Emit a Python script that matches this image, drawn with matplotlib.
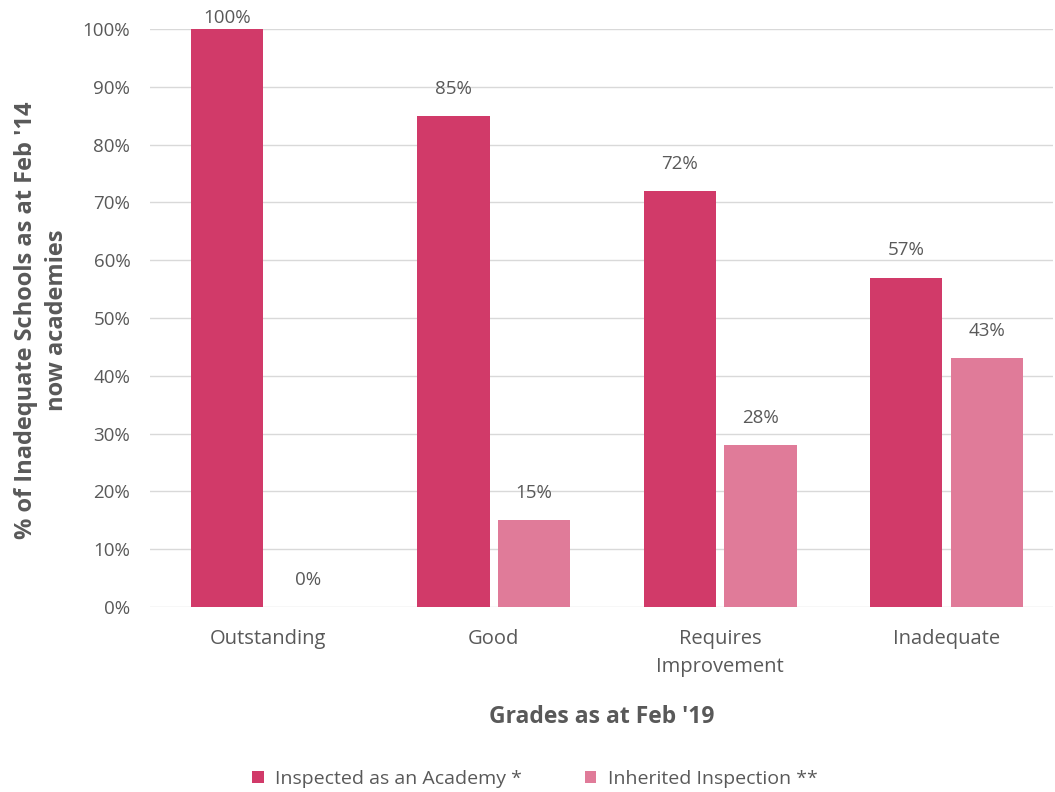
import matplotlib
matplotlib.use("Agg")
import matplotlib.pyplot as plt
import numpy as np

categories = ["Outstanding", "Good", "Requires\nImprovement", "Inadequate"]
academy = [100, 85, 72, 57]
inherited = [0, 15, 28, 43]
series_names = ["Inspected as an Academy *", "Inherited Inspection **"]
yticks = [0, 10, 20, 30, 40, 50, 60, 70, 80, 90, 100]

plt.rcParams['font.family'] = ['Open Sans', 'DejaVu Sans']
c1 = "#D13A69"
c2 = "#E07B99"
tc = "#595959"

fig = plt.figure(figsize=(10.55, 7.92), dpi=100)
ax = fig.add_axes([0.142, 0.2336, 0.856, 0.7298])

x = np.arange(len(categories))
w = 0.32
off = 0.178
b1 = ax.bar(x - off, academy, w, color=c1, label=series_names[0], zorder=3)
b2 = ax.bar(x + off, inherited, w, color=c2, label=series_names[1], zorder=3)

for bars, vals in ((b1, academy), (b2, inherited)):
    for r, v in zip(bars, vals):
        cx = r.get_x() + r.get_width() / 2
        if v >= 100:
            ax.annotate(f"{v}%", (cx, v), xytext=(0, 8), textcoords="offset points",
                        ha="center", va="center", fontsize=13.5, color=tc, annotation_clip=False)
        else:
            ax.annotate(f"{v}%", (cx, v), xytext=(0, 19.5), textcoords="offset points",
                        ha="center", va="center", fontsize=13.5, color=tc)

ax.set_ylim(0, 100)
ax.set_xlim(-0.52, 3.47)
ax.set_yticks(yticks)
ax.set_yticklabels([f"{t}%" for t in yticks], fontsize=13.5, color=tc)
ax.set_xticks(x)
ax.set_xticklabels(categories, fontsize=14.5, color=tc, linespacing=1.55)
ax.tick_params(axis="x", length=0, pad=16)
ax.tick_params(axis="y", length=0, pad=14)
ax.grid(axis="y", color="#D9D9D9", linewidth=1, zorder=0)
for s in ax.spines.values():
    s.set_visible(False)

ax.set_xlabel("Grades as at Feb '19", fontsize=16.5, fontweight="bold", color=tc, labelpad=20)
fig.text(0.039, 0.596, "% of Inadequate Schools as at Feb '14\nnow academies", rotation=90,
         ha="center", va="center", fontsize=17, fontweight="bold", color=tc, linespacing=1.4)

leg = fig.legend(handles=[b1, b2], labels=series_names, loc="center", bbox_to_anchor=(0.507, 0.017),
                 ncol=2, frameon=False, fontsize=14, handlelength=0.6, handleheight=0.6,
                 columnspacing=3.2, handletextpad=0.6)
for t in leg.get_texts():
    t.set_color(tc)

fig.savefig("out.png", dpi=100)
